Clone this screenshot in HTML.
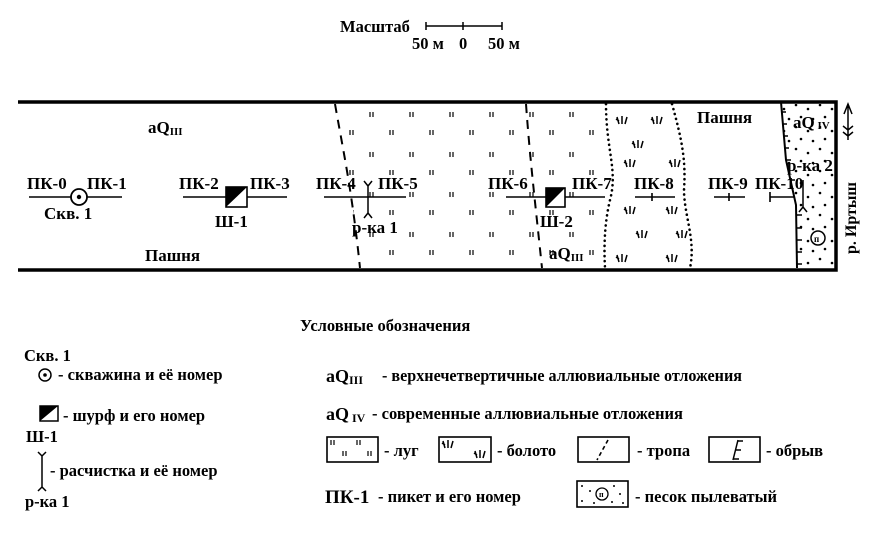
<!DOCTYPE html>
<html><head><meta charset="utf-8"><style>
html,body{margin:0;padding:0;background:#fff}
svg{display:block}
text{font-family:"Liberation Serif","DejaVu Serif",serif;font-weight:bold;fill:#000}
</style></head><body>
<svg width="875" height="538" viewBox="0 0 875 538" xmlns="http://www.w3.org/2000/svg">
<defs>
<pattern id="lug" width="80" height="40" patternUnits="userSpaceOnUse" x="0" y="108">
 <g stroke="#000" stroke-width="1.2">
  <path d="M10 4v5M13 4v5M50 4v5M53 4v5M30 22v5M33 22v5M70 22v5M73 22v5"/>
 </g>
</pattern>
<pattern id="sand" width="24" height="22" patternUnits="userSpaceOnUse" x="0" y="100">
 <g fill="#000"><circle cx="4" cy="5" r="1.3"/><circle cx="16" cy="9" r="1.3"/><circle cx="9" cy="17" r="1.3"/><circle cx="21" cy="19" r="1.3"/></g>
</pattern>
<g id="sw" stroke="#000" stroke-width="1.5" fill="none">
 <path d="M0 0l2 7M5 -1v8M10 0l-2 7M-1 2l3 2"/>
</g>
</defs>

<!-- scale -->
<text x="340" y="32" font-size="16.5">Масштаб</text>
<path d="M426 26H502M426 22v8M463 22v8M502 22v8" stroke="#000" stroke-width="1.5"/>
<text x="412" y="49" font-size="16.5">50 м</text>
<text x="459" y="49" font-size="16.5">0</text>
<text x="488" y="49" font-size="16.5">50 м</text>

<!-- meadow area -->
<path d="M337 104 C343 150 352 190 360 268 L541 268 C536 210 530 160 528 104 Z" fill="url(#lug)"/>
<path d="M528 104 C530 160 536 210 541 268 L606 268 C604 220 612 170 608 104 Z" fill="url(#lug)"/>
<!-- sand area -->
<path d="M781 104 L786 160 L796 205 L798 268 L834 268 L834 104 Z" fill="url(#sand)"/>

<!-- map frame -->
<path d="M18 102H836V270H18" fill="none" stroke="#000" stroke-width="3.5"/>

<!-- dashed paths -->
<path d="M335 104 C343 150 352 190 360 268" fill="none" stroke="#000" stroke-width="2" stroke-dasharray="9 7"/>
<path d="M526 104 C530 160 536 210 542 268" fill="none" stroke="#000" stroke-width="2" stroke-dasharray="9 7"/>
<!-- dotted -->
<path d="M606 104 C606 150 618 170 610 200 C604 225 604 250 605 268" fill="none" stroke="#000" stroke-width="2.6" stroke-dasharray="0.1 5" stroke-linecap="round"/>
<path d="M672 104 C682 140 686 160 684 190 C684 215 696 240 690 268" fill="none" stroke="#000" stroke-width="2.6" stroke-dasharray="0.1 5" stroke-linecap="round"/>

<!-- swamp symbols -->
<use href="#sw" x="617" y="117"/><use href="#sw" x="652" y="117"/>
<use href="#sw" x="633" y="141"/><use href="#sw" x="625" y="160"/><use href="#sw" x="670" y="160"/>
<use href="#sw" x="625" y="207"/><use href="#sw" x="667" y="207"/>
<use href="#sw" x="637" y="231"/><use href="#sw" x="677" y="231"/>
<use href="#sw" x="617" y="255"/><use href="#sw" x="667" y="255"/>

<!-- cliff -->
<path d="M781 102 L786 160 L796 205 L797 268" fill="none" stroke="#000" stroke-width="2"/>
<path d="M781 112h5M782 124h5M783 136h5M784 148h5M786 160h5M790 180h5M797 215h5M797 228h5M797 240h5M797 252h5M797 264h5" stroke="#000" stroke-width="1.5"/>

<!-- north arrow -->
<path d="M848 104V140M844 114L848 104L852 114M843 126l5 4l5 -4M843 132l5 4l5 -4" stroke="#000" stroke-width="1.5" fill="none"/>
<text transform="translate(856,254) rotate(-90)" font-size="16">р. Иртыш</text>

<!-- labels -->
<g font-size="17">
<text x="148" y="133">aQ<tspan font-size="11" dy="2">III</tspan></text>
<text x="27" y="189">ПК-0</text><text x="87" y="189">ПК-1</text>
<text x="44" y="219">Скв. 1</text>
<text x="179" y="189">ПК-2</text><text x="250" y="189">ПК-3</text>
<text x="215" y="227">Ш-1</text>
<text x="316" y="189">ПК-4</text><text x="378" y="189">ПК-5</text>
<text x="352" y="233">р-ка 1</text>
<text x="145" y="261">Пашня</text>
<text x="488" y="189">ПК-6</text><text x="572" y="189">ПК-7</text>
<text x="540" y="227">Ш-2</text>
<text x="549" y="259">aQ<tspan font-size="11" dy="2">III</tspan></text>
<text x="634" y="189">ПК-8</text>
<text x="708" y="189">ПК-9</text><text x="755" y="189">ПК-10</text>
<text x="697" y="123">Пашня</text>
<text x="793" y="128">aQ<tspan font-size="11" dy="1"> IV</tspan></text>
<text x="787" y="171">р-ка 2</text>
</g>

<!-- profile lines -->
<g stroke="#000" stroke-width="1.6" fill="none">
<path d="M29 197H122"/>
<path d="M183 197H287"/>
<path d="M324 197H406"/>
<path d="M506 197H605"/>
<path d="M635 197H675M652 193v8"/>
<path d="M714 197H745M729 193v8"/>
<path d="M770 197H795M770 192v10"/>
</g>
<circle cx="79" cy="197" r="8" fill="#fff" stroke="#000" stroke-width="1.8"/>
<circle cx="79" cy="197" r="2.2" fill="#000"/>
<!-- shurf 1 -->
<rect x="226" y="187" width="21" height="20" fill="#fff" stroke="#000" stroke-width="1.6"/>
<path d="M226 187H247L226 207Z" fill="#000"/>
<!-- shurf 2 -->
<rect x="546" y="188" width="19" height="19" fill="#fff" stroke="#000" stroke-width="1.6"/>
<path d="M546 188H565L546 207Z" fill="#000"/>
<!-- raschistka 1 -->
<path d="M368 186V213M364 181L368 186L372 181M364 218L368 213L372 218" stroke="#000" stroke-width="1.5" fill="none"/>
<!-- raschistka 2 -->
<path d="M803 180V207M799 212L803 207L807 212" stroke="#000" stroke-width="1.5" fill="none"/>
<circle cx="818" cy="238" r="7" fill="#fff" stroke="#000" stroke-width="1.5"/>
<text x="814" y="242" font-size="9">п</text>

<!-- legend -->
<text x="300" y="331" font-size="16.5">Условные обозначения</text>
<g font-size="16.5">
<text x="24" y="361">Скв. 1</text>
<circle cx="45" cy="375" r="6" fill="none" stroke="#000" stroke-width="1.5"/><circle cx="45" cy="375" r="1.8"/>
<text x="58" y="380">- скважина и её номер</text>
<rect x="40" y="406" width="18" height="15" fill="#fff" stroke="#000" stroke-width="1.5"/>
<path d="M40 406H58L40 421Z"/>
<text x="63" y="421">- шурф и его номер</text>
<text x="26" y="442">Ш-1</text>
<path d="M42 456V487M38 452L42 456L46 452M38 491L42 487L46 491" stroke="#000" stroke-width="1.5" fill="none"/>
<text x="50" y="476">- расчистка и её номер</text>
<text x="25" y="507">р-ка 1</text>

<text x="326" y="382" font-size="18">aQ<tspan font-size="12" dy="2">III</tspan></text>
<text x="382" y="381" textLength="360" lengthAdjust="spacingAndGlyphs">- верхнечетвертичные аллювиальные отложения</text>
<text x="326" y="420" font-size="18">aQ<tspan font-size="12" dy="2"> IV</tspan></text>
<text x="372" y="419" textLength="311" lengthAdjust="spacingAndGlyphs">- современные аллювиальные отложения</text>

<rect x="327" y="437" width="51" height="25" fill="#fff" stroke="#000" stroke-width="1.6"/>
<path d="M331 440v5M334 440v5M357 440v5M360 440v5M343 451v5M346 451v5M368 451v5M371 451v5" stroke="#000" stroke-width="1.2"/>
<text x="384" y="456">- луг</text>
<rect x="439" y="437" width="52" height="25" fill="#fff" stroke="#000" stroke-width="1.6"/>
<use href="#sw" x="443" y="441"/><use href="#sw" x="475" y="451"/>
<text x="497" y="456">- болото</text>
<rect x="578" y="437" width="51" height="25" fill="#fff" stroke="#000" stroke-width="1.6"/>
<path d="M608 440L597 460" stroke="#000" stroke-width="1.6" stroke-dasharray="4 3"/>
<text x="637" y="456">- тропа</text>
<rect x="709" y="437" width="51" height="25" fill="#fff" stroke="#000" stroke-width="1.6"/>
<path d="M738 440L733 460M738 441h5M736 450h5M734 459h5" stroke="#000" stroke-width="1.5"/>
<text x="766" y="456">- обрыв</text>

<text x="325" y="503" font-size="19">ПК-1</text>
<text x="378" y="502">- пикет и его номер</text>
<rect x="577" y="481" width="51" height="26" fill="#fff" stroke="#000" stroke-width="1.6"/>
<g><circle cx="582" cy="486" r="1"/><circle cx="590" cy="491" r="1"/><circle cx="582" cy="501" r="1"/><circle cx="594" cy="503" r="1"/><circle cx="614" cy="486" r="1"/><circle cx="620" cy="494" r="1"/><circle cx="612" cy="502" r="1"/><circle cx="623" cy="503" r="1"/></g>
<circle cx="602" cy="494" r="6" fill="none" stroke="#000" stroke-width="1.3"/>
<text x="599" y="497" font-size="8">п</text>
<text x="635" y="502">- песок пылеватый</text>
</g>
</svg>
</body></html>
